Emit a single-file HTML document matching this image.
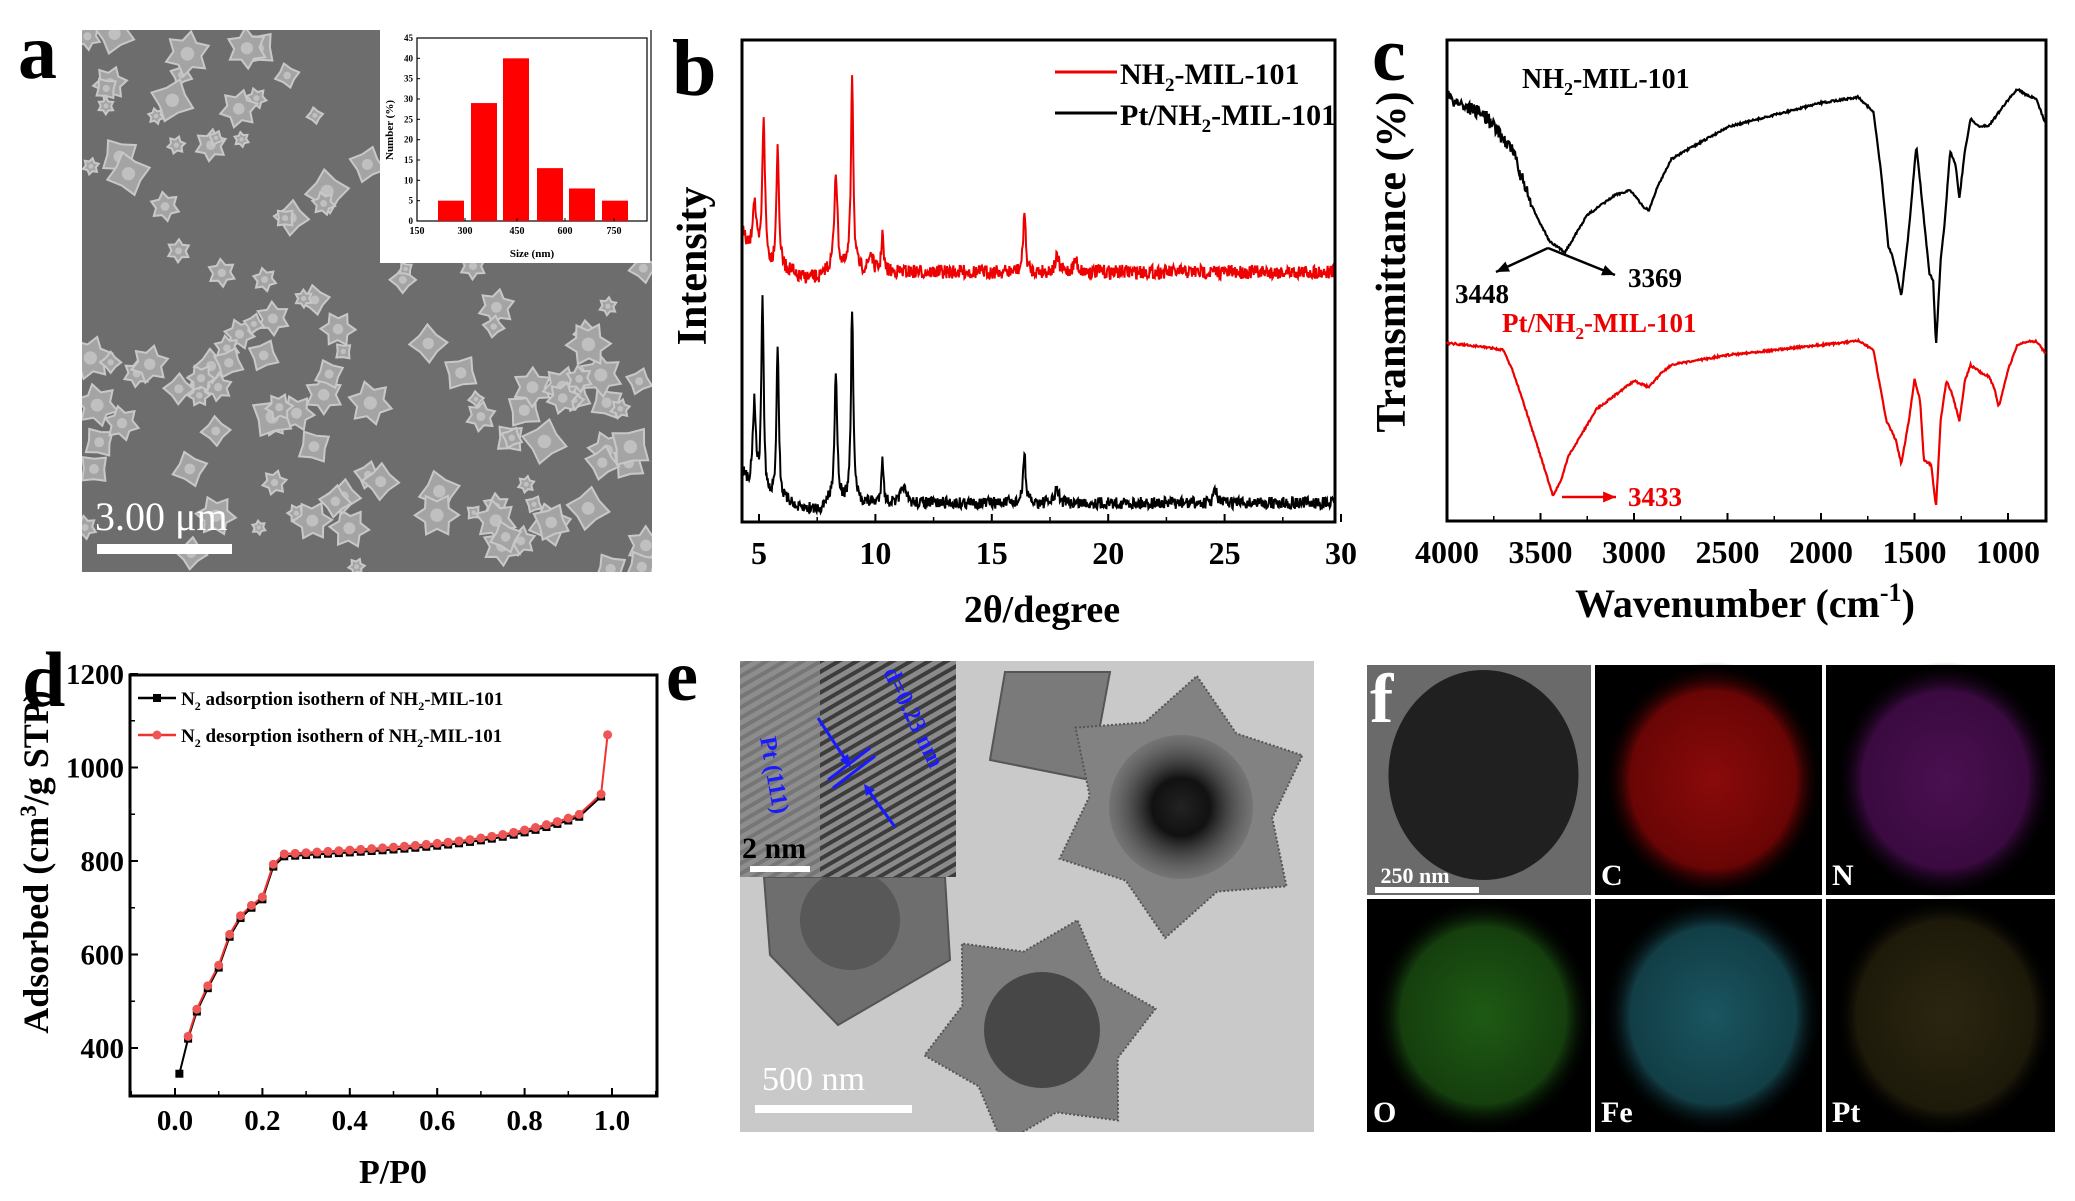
<!DOCTYPE html>
<html><head><meta charset="utf-8"><style>
html,body{margin:0;padding:0;background:#fff}
svg{display:block}
text{font-family:"Liberation Serif",serif;font-weight:bold}
</style></head><body>
<svg id="s" width="2075" height="1201" viewBox="0 0 2075 1201" xmlns="http://www.w3.org/2000/svg">
<defs>
<clipPath id="semclip"><rect x="82" y="30" width="570" height="542"/></clipPath>
<clipPath id="xclip"><rect x="742" y="40" width="593" height="482"/></clipPath>
<clipPath id="temclip"><rect x="740" y="661" width="574" height="471"/></clipPath>
<radialGradient id="gC" cx="50%" cy="50%" r="50%"><stop offset="0" stop-color="#8a0a0a"/><stop offset="0.75" stop-color="#6a0505"/><stop offset="1" stop-color="#000" stop-opacity="0"/></radialGradient>
<radialGradient id="gN" cx="50%" cy="50%" r="50%"><stop offset="0" stop-color="#4a1050"/><stop offset="0.75" stop-color="#3a0a40"/><stop offset="1" stop-color="#000" stop-opacity="0"/></radialGradient>
<radialGradient id="gO" cx="50%" cy="50%" r="50%"><stop offset="0" stop-color="#1e5a14"/><stop offset="0.75" stop-color="#153f0e"/><stop offset="1" stop-color="#000" stop-opacity="0"/></radialGradient>
<radialGradient id="gFe" cx="50%" cy="50%" r="50%"><stop offset="0" stop-color="#1a5560"/><stop offset="0.75" stop-color="#123e46"/><stop offset="1" stop-color="#000" stop-opacity="0"/></radialGradient>
<radialGradient id="gPt" cx="50%" cy="50%" r="50%"><stop offset="0" stop-color="#2a2610"/><stop offset="0.8" stop-color="#1e1a0a"/><stop offset="1" stop-color="#000" stop-opacity="0"/></radialGradient>
<radialGradient id="gT" cx="50%" cy="50%" r="50%"><stop offset="0" stop-color="#222"/><stop offset="0.4" stop-color="#111"/><stop offset="1" stop-color="#555" stop-opacity="0.3"/></radialGradient>
<pattern id="fringe" width="9" height="9" patternUnits="userSpaceOnUse" patternTransform="rotate(60)"><rect width="9" height="9" fill="#8a8a8a"/><rect width="4" height="9" fill="#3c3c3c"/></pattern>
</defs>

<!-- Panel a -->
<text x="18" y="78" font-size="78">a</text>
<rect x="82" y="30" width="570" height="542" fill="#6d6d6d"/>
<g id="sem" clip-path="url(#semclip)"></g>
<rect x="380" y="30" width="270" height="233" fill="#fff"/>
<g id="hist"></g>
<text x="95" y="530" font-size="40" fill="#fff" style="font-weight:normal">3.00 μm</text>
<rect x="97" y="544" width="135" height="10" fill="#fff"/>

<!-- Panel b -->
<text x="672" y="95" font-size="80">b</text>
<g id="xrd"></g>
<rect x="742" y="40" width="593" height="482" fill="none" stroke="#000" stroke-width="3"/>
<text x="706" y="266" font-size="42" transform="rotate(-90 706 266)" text-anchor="middle">Intensity</text>
<line x1="1055" y1="72" x2="1117" y2="72" stroke="#e00" stroke-width="3"/>
<text x="1120" y="84" font-size="30">NH<tspan font-size="19" dy="7">2</tspan><tspan dy="-7">-MIL-101</tspan></text>
<line x1="1055" y1="113" x2="1117" y2="113" stroke="#000" stroke-width="3"/>
<text x="1120" y="125" font-size="30">Pt/NH<tspan font-size="19" dy="7">2</tspan><tspan dy="-7">-MIL-101</tspan></text>
<text x="1042" y="622" font-size="38" text-anchor="middle">2θ/degree</text>

<!-- Panel c -->
<text x="1372" y="80" font-size="76">c</text>
<rect x="1447" y="40" width="599" height="481" fill="none" stroke="#000" stroke-width="3"/>
<g id="ftir"></g>
<text x="1405" y="262" font-size="42" transform="rotate(-90 1405 262)" text-anchor="middle">Transmittance (%)</text>
<text x="1522" y="88" font-size="28">NH<tspan font-size="18" dy="7">2</tspan><tspan dy="-7">-MIL-101</tspan></text>
<text x="1455" y="303" font-size="27">3448</text>
<text x="1628" y="287" font-size="27">3369</text>
<text x="1502" y="332" font-size="27" fill="#e00">Pt/NH<tspan font-size="17" dy="7">2</tspan><tspan dy="-7">-MIL-101</tspan></text>
<text x="1628" y="506" font-size="27" fill="#e00">3433</text>
<text x="1745" y="617" font-size="40" text-anchor="middle">Wavenumber (cm<tspan font-size="26" dy="-16">-1</tspan><tspan dy="16">)</tspan></text>

<!-- Panel d -->
<text x="22" y="706" font-size="78">d</text>
<rect x="130" y="675" width="527" height="421" fill="none" stroke="#000" stroke-width="3"/>
<g id="iso"></g>
<text x="48" y="862" font-size="36" transform="rotate(-90 48 862)" text-anchor="middle">Adsorbed (cm<tspan font-size="23" dy="-12">3</tspan><tspan dy="12">/g STP)</tspan></text>
<text x="393" y="1183" font-size="34" text-anchor="middle">P/P0</text>
<line x1="138" y1="698" x2="176" y2="698" stroke="#000" stroke-width="2.5"/><rect x="153" y="694" width="8" height="8" fill="#000"/>
<text x="181" y="705" font-size="19">N<tspan font-size="12" dy="5">2</tspan><tspan dy="-5"> adsorption isothern of NH</tspan><tspan font-size="12" dy="5">2</tspan><tspan dy="-5">-MIL-101</tspan></text>
<line x1="138" y1="735" x2="176" y2="735" stroke="#e33" stroke-width="2.5"/><circle cx="157" cy="735" r="4.5" fill="#e55"/>
<text x="181" y="742" font-size="19">N<tspan font-size="12" dy="5">2</tspan><tspan dy="-5"> desorption isothern of NH</tspan><tspan font-size="12" dy="5">2</tspan><tspan dy="-5">-MIL-101</tspan></text>

<!-- Panel e -->
<text x="666" y="700" font-size="72">e</text>
<rect x="740" y="661" width="574" height="471" fill="#c9c9c9"/>
<g id="tem" clip-path="url(#temclip)"></g>
<rect x="740" y="661" width="216" height="216" fill="url(#fringe)"/>
<rect x="740" y="661" width="80" height="216" fill="#8e8e8e" opacity="0.7"/>
<text x="742" y="858" font-size="30" fill="#000">2 nm</text>
<rect x="750" y="866" width="60" height="6" fill="#fff"/>
<g fill="none" stroke="#1a1aff" stroke-width="3">
<line x1="818" y1="718" x2="847" y2="762"/><line x1="895" y1="827" x2="868" y2="790"/>
<line x1="828" y1="780" x2="870" y2="748"/><line x1="833" y1="788" x2="875" y2="756"/>
</g>
<polygon points="851,768 840,760 848,754" fill="#1a1aff"/>
<polygon points="864,784 875,790 866,796" fill="#1a1aff"/>
<text x="0" y="0" font-size="24" fill="#1a1aff" transform="translate(883,672) rotate(64)">d=0.23 nm</text>
<text x="0" y="0" font-size="24" fill="#1a1aff" transform="translate(760,738) rotate(80)">Pt (111)</text>
<text x="762" y="1090" font-size="34" fill="#fff" style="font-weight:normal">500 nm</text>
<rect x="755" y="1105" width="157" height="8" fill="#fff"/>

<!-- Panel f -->
<g id="fmap"></g>
</svg>
<script>
(function(){
var NS='http://www.w3.org/2000/svg';
function el(p,t,a){var e=document.createElementNS(NS,t);for(var k in a)e.setAttribute(k,a[k]);p.appendChild(e);return e;}
var seed=7;function rnd(){seed=(seed*16807)%2147483647;return (seed-1)/2147483646;}
function txt(p,x,y,s,str,anc,fill){var t=el(p,'text',{x:x,y:y,'font-size':s,'text-anchor':anc||'middle',fill:fill||'#000'});t.textContent=str;return t;}

// SEM crystals
var sem=document.getElementById('sem');
for(var i=0;i<150;i++){
 var cx=85+rnd()*565,cy=33+rnd()*537; if(cx>375&&cy<265)continue;
 var r=7+rnd()*16, n=rnd()<0.5?6:4, rot=rnd()*6.28, pts=[];
 for(var k=0;k<n*2;k++){var a=rot+k*Math.PI/n, rr=(k%2==0)?r:r*0.62;pts.push((cx+rr*Math.cos(a)).toFixed(1)+','+(cy+rr*Math.sin(a)).toFixed(1));}
 el(sem,'polygon',{points:pts.join(' '),fill:'#a4a4a4',stroke:'#c8c8c8','stroke-width':2});
 el(sem,'circle',{cx:cx,cy:cy,r:r*0.3,fill:'#c0c0c0'});
}
// histogram
var h=document.getElementById('hist');
var X0=417,X1=647,Y0=221,Y1=38;
el(h,'rect',{x:X0,y:Y1,width:X1-X0,height:Y0-Y1,fill:'none',stroke:'#000','stroke-width':1.2});
function hy(v){return Y0-(v/45)*(Y0-Y1);}
var bars=[5,29,40,13,8,5];
var bx=[438,471,503,537,569,602];
bars.forEach(function(b,i){el(h,'rect',{x:bx[i],y:hy(b),width:26,height:Y0-hy(b),fill:'#f00'});});
for(var v=0;v<=45;v+=5){el(h,'line',{x1:X0,y1:hy(v),x2:X0+3,y2:hy(v),stroke:'#000'});txt(h,X0-4,hy(v)+3,9,v,'end');}
[150,300,450,600,750].forEach(function(v,i){var x=[417,465,517,565,614][i];el(h,'line',{x1:x,y1:Y0,x2:x,y2:Y0-3,stroke:'#000'});txt(h,x,Y0+13,10,v);});
txt(h,532,257,11,'Size (nm)');
var yl=txt(h,393,130,11,'Number (%)');yl.setAttribute('transform','rotate(-90 393 130)');

// XRD
var g=document.getElementById('xrd');
var gc=el(g,'g',{'clip-path':'url(#xclip)'});
function xx(t){return 759+(t-5)*23.28;}
function lor(x,c,w){return 1/(1+((x-c)/w)*((x-c)/w));}
function xrd(base,pk,low,noise,col){
 var d='';for(var t=4.2;t<=30;t+=0.025){var y=base;pk.forEach(function(p){y-=p[1]*lor(t,p[0],p[2]);});
 y-=low*Math.exp(-(t-4.3)/0.35); y+=(rnd()-0.5)*noise; if(t>6.5&&t<7.8)y+=6;
 d+=(d?'L':'M')+xx(t).toFixed(1)+','+y.toFixed(1);}
 el(gc,'path',{d:d,fill:'none',stroke:col,'stroke-width':2});}
xrd(272,[[4.8,60,0.1],[5.2,150,0.07],[5.8,120,0.07],[8.3,100,0.08],[9.0,200,0.06],[9.8,18,0.1],[10.3,40,0.05],[16.4,62,0.06],[17.8,14,0.1],[18.6,12,0.1]],40,14,'#e00');
xrd(503,[[4.8,90,0.09],[5.15,200,0.06],[5.8,158,0.06],[8.3,130,0.07],[9.0,195,0.06],[10.3,48,0.05],[11.2,18,0.1],[16.4,52,0.06],[17.8,14,0.1],[24.6,14,0.08]],30,12,'#000');
for(var t=5;t<=30;t+=5){el(g,'line',{x1:xx(t),y1:522,x2:xx(t),y2:514,stroke:'#000','stroke-width':2});txt(g,xx(t),564,32,t);}
for(var t=7.5;t<30;t+=5){el(g,'line',{x1:xx(t),y1:522,x2:xx(t),y2:517,stroke:'#000','stroke-width':1.5});}

// FTIR
var f=document.getElementById('ftir');
function wx(w){return 1447+(4000-w)*0.187;}
function curve(pts,noiseFn,col){var d='';for(var w=4000;w>=800;w-=4){var i=0;while(i<pts.length-2&&pts[i+1][0]>w)i++;var a=pts[i],b=pts[i+1];var y=a[1]+(b[1]-a[1])*(a[0]-w)/(a[0]-b[0]);y+=noiseFn(w);d+=(d?'L':'M')+wx(w).toFixed(1)+','+y.toFixed(1);}el(f,'path',{d:d,fill:'none',stroke:col,'stroke-width':2.2});}
var blk=[[4000,97],[3800,115],[3650,150],[3550,205],[3450,242],[3369,252],[3250,215],[3100,195],[3020,190],[2950,207],[2920,210],[2870,185],[2800,159],[2500,127],[2000,103],[1800,97],[1720,112],[1680,170],[1640,246],[1620,255],[1600,270],[1570,296],[1530,230],[1490,145],[1460,200],[1420,274],[1400,280],[1385,347],[1360,260],[1340,226],[1310,151],[1280,165],[1260,198],[1230,150],[1200,119],[1150,127],[1100,125],[1000,100],[950,89],[900,95],[850,99],[800,123]];
var red=[[4000,343],[3800,347],[3700,350],[3650,370],[3600,397],[3500,456],[3433,496],[3390,480],[3350,456],[3200,409],[3000,381],[2920,387],[2850,372],[2800,365],[2500,355],[2000,345],[1800,341],[1720,350],[1670,400],[1650,421],[1600,440],[1570,464],[1530,420],[1500,379],[1470,400],[1450,460],[1410,465],[1385,508],[1360,420],[1330,381],[1300,393],[1260,421],[1230,380],[1200,365],[1150,372],[1100,377],[1070,390],[1050,407],[1000,370],[950,345],[900,342],[850,341],[800,353]];
curve(blk,function(w){return w>3550?(rnd()-0.5)*14:(rnd()-0.5)*2;},'#000');
curve(red,function(w){return (rnd()-0.5)*2;},'#e00');
for(var w=4000;w>=1000;w-=500){el(f,'line',{x1:wx(w),y1:521,x2:wx(w),y2:513,stroke:'#000','stroke-width':2});txt(f,wx(w),563,32,w);}
for(var w=3750;w>=1000;w-=500){el(f,'line',{x1:wx(w),y1:521,x2:wx(w),y2:516,stroke:'#000','stroke-width':1.5});}
function arrow(x1,y1,x2,y2,col){el(f,'line',{x1:x1,y1:y1,x2:x2,y2:y2,stroke:col,'stroke-width':2.5});var a=Math.atan2(y2-y1,x2-x1),L=14,W=0.4;el(f,'polygon',{points:x2+','+y2+' '+(x2-L*Math.cos(a-W))+','+(y2-L*Math.sin(a-W))+' '+(x2-L*Math.cos(a+W))+','+(y2-L*Math.sin(a+W)),fill:col});}
arrow(1548,248,1496,272,'#000');arrow(1548,248,1615,275,'#000');arrow(1562,497,1616,497,'#e00');

// isotherm
var is=document.getElementById('iso');
function px(p){return 175+p*437;} function py(v){return 1048-(v-400)*0.4675;}
var ads=[[0.01,345],[0.03,420],[0.05,478],[0.075,528],[0.1,572],[0.125,638],[0.15,678],[0.175,700],[0.2,718],[0.225,788]];
for(var p=0.25;p<=0.95;p+=0.025){ads.push([p,810+ (p-0.25)*55+ Math.pow((p-0.25)/0.7,4)*55]);}
ads.push([0.975,938]);
var des=ads.slice(1).map(function(a){return [a[0],a[1]+5];});des.push([0.99,1070]);
function poly(arr){return arr.map(function(a,i){return (i?'L':'M')+px(a[0]).toFixed(1)+','+py(a[1]).toFixed(1);}).join('');}
el(is,'path',{d:poly(ads),fill:'none',stroke:'#000','stroke-width':2});
el(is,'path',{d:poly(des),fill:'none',stroke:'#e33','stroke-width':2});
ads.forEach(function(a){el(is,'rect',{x:px(a[0])-4,y:py(a[1])-4,width:8,height:8,fill:'#000'});});
des.forEach(function(a){el(is,'circle',{cx:px(a[0]),cy:py(a[1]),r:4.5,fill:'#e55'});});
for(var v=400;v<=1200;v+=200){el(is,'line',{x1:130,y1:py(v),x2:138,y2:py(v),stroke:'#000','stroke-width':2});txt(is,124,py(v)+10,29,v,'end');}
for(var v=500;v<1200;v+=200){el(is,'line',{x1:130,y1:py(v),x2:135,y2:py(v),stroke:'#000','stroke-width':1.5});}
for(var p=0;p<=1.01;p+=0.2){el(is,'line',{x1:px(p),y1:1096,x2:px(p),y2:1088,stroke:'#000','stroke-width':2});txt(is,px(p),1130,29,p.toFixed(1));}
for(var p=-0.1;p<=1.11;p+=0.1){el(is,'line',{x1:px(p),y1:1096,x2:px(p),y2:1091,stroke:'#000','stroke-width':1.5});}

// TEM
var tm=document.getElementById('tem');
function star(cx,cy,R,r,rot,fill){var pts=[];for(var k=0;k<12;k++){var a=rot+k*Math.PI/6,rr=k%2?r:R;pts.push((cx+rr*Math.cos(a)).toFixed(1)+','+(cy+rr*Math.sin(a)).toFixed(1));}el(tm,'polygon',{points:pts.join(' '),fill:fill,stroke:'#555','stroke-width':2,'stroke-dasharray':'2 2'});}
el(tm,'polygon',{points:'1005,672 1110,672 1090,780 990,760',fill:'#7a7a7a',stroke:'#555','stroke-width':2});
star(1181,807,132,92,-1.45,'#828282');
el(tm,'circle',{cx:1181,cy:807,r:72,fill:'url(#gT)'});
star(1040,1032,118,82,-0.2,'#7e7e7e');
el(tm,'circle',{cx:1042,cy:1030,r:58,fill:'#3a3a3a',opacity:0.8});
el(tm,'polygon',{points:'764,877 945,877 950,960 838,1025 770,955',fill:'#6e6e6e',stroke:'#555','stroke-width':2});
el(tm,'circle',{cx:850,cy:920,r:50,fill:'#4a4a4a',opacity:0.6});

// EDS maps
var fm=document.getElementById('fmap');
var cols=[[1367,1591],[1595,1822],[1826,2055]],rows=[[665,895],[899,1132]];
var maps=[['TEM',null],['C','url(#gC)'],['N','url(#gN)'],['O','url(#gO)'],['Fe','url(#gFe)'],['Pt','url(#gPt)']];
maps.forEach(function(m,i){var c=cols[i%3],r=rows[Math.floor(i/3)],w=c[1]-c[0],hh=r[1]-r[0];
 el(fm,'rect',{x:c[0],y:r[0],width:w,height:hh,fill:i==0?'#6a6a6a':'#000'});
 var cx=c[0]+w*0.52,cy=r[0]+hh*0.5;
 if(i==0){el(fm,'ellipse',{cx:cx,cy:cy-5,rx:95,ry:105,fill:'#202020'});}
 else el(fm,'ellipse',{cx:cx,cy:cy,rx:110,ry:118,fill:m[1]});
 if(i>0)txt(fm,c[0]+6,r[1]-10,30,m[0],'start','#fff');});
txt(fm,1370,722,70,'f','start','#fff');
txt(fm,1415,883,22,'250 nm','middle','#fff');
el(fm,'rect',{x:1375,y:887,width:104,height:6,fill:'#fff'});
})();
</script>
</body></html>
